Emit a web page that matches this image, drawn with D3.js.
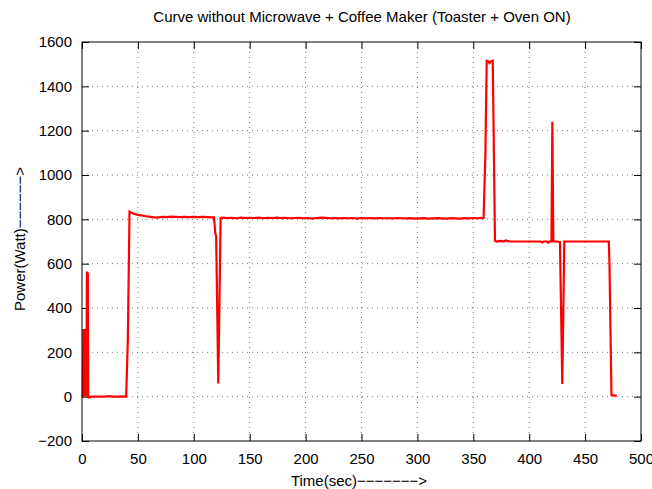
<!DOCTYPE html>
<html>
<head>
<meta charset="utf-8">
<script src="https://cdn.jsdelivr.net/npm/d3@7"></script>
<style>
  html, body { margin: 0; padding: 0; background: #fff; }
  svg { display: block; }
  text { font-family: "Liberation Sans", Arial, Helvetica, sans-serif; font-size: 15px; fill: #000; }
</style>
</head>
<body>
<svg id="chart" width="652" height="489"></svg>
<script>
const titleText = "Curve without Microwave + Coffee Maker (Toaster + Oven ON)";
const xLabelText = "Time(sec)\u2212\u2212\u2212\u2212\u2212\u2212\u2212>";
const yLabelText = "Power(Watt)\u2212\u2212\u2212\u2212\u2212\u2212>";
const xTicks = [0, 50, 100, 150, 200, 250, 300, 350, 400, 450, 500];
const yTicks = [-200, 0, 200, 400, 600, 800, 1000, 1200, 1400, 1600];

const timeSec = [
  0, 0.8, 1.2, 1.6, 2.0, 2.4, 2.8, 3.2, 3.6, 4.0, 4.4, 4.8, 5.2, 5.6, 6.5, 8, 12, 16, 20, 24, 28, 32, 36, 39.5, 41, 42.5,
  45, 47, 50, 53, 56, 60, 63, 66, 70, 73, 76, 80, 84, 88, 92, 96, 100, 104, 108, 112, 116, 118, 119.3, 120, 121.9, 124,
  126, 130, 134, 138, 142, 146, 150, 154, 158, 162, 166, 170, 174, 178, 182, 186, 190, 194, 198, 202, 206, 210, 214, 218,
  222, 226, 230, 234, 238, 242, 246, 250, 254, 258, 262, 266, 270, 274, 278, 282, 286, 290, 294, 298, 302, 306, 310, 314,
  318, 322, 326, 330, 334, 338, 342, 346, 350, 354, 358, 359.2,
  360.8, 362, 363.5, 364.5, 365.5, 367.4, 369.4, 371, 373, 375, 377, 379, 381, 383, 386, 390, 395, 400, 405, 410, 412, 413,
  416, 417, 418, 419.9, 420.7, 421.6, 424, 427.5, 429.6, 431.4, 435, 440, 450, 460, 470, 471.2, 471.8, 473.6, 476, 478.3
];
const powerWatt = [
  0, 0, 305, 0, 300, 0, 305, 0, 300, 0, 565, 0, 560, -3, -4, 0, 0, 0, 0, 2, 0, 0, 1, 0, 255, 835,
  828, 824, 820, 818, 815, 812, 810, 808, 810, 811, 810, 812, 811, 810, 811, 810, 811, 810, 811, 810, 809, 810, 735, 725, 60, 806,
  808, 806, 807, 805, 808, 806, 807, 806, 808, 805, 807, 806, 808, 806, 807, 805, 806, 807, 805, 806, 803, 806, 808, 807,
  805, 806, 804, 806, 805, 806, 803, 806, 805, 806, 804, 806, 805, 805, 804, 806, 805, 804, 805, 803, 804, 805, 803, 804,
  805, 804, 803, 805, 804, 803, 805, 804, 806, 805, 806, 806,
  1090, 1515, 1512, 1505, 1512, 1515, 703, 700, 702, 703, 700, 705, 702, 700, 700, 700, 700, 700, 700, 700, 696, 700,
  700, 695, 700, 700, 1240, 700, 700, 698, 57, 700, 700, 700, 700, 700, 700, 700, 600, 7, 5, 5
];

const W = 652, H = 489;
const plot = { left: 82, right: 641, top: 42, bottom: 441 };
const svg = d3.select("#chart");

const x = d3.scaleLinear().domain([0, 500]).range([plot.left, plot.right]);
const y = d3.scaleLinear().domain([-200, 1600]).range([plot.bottom, plot.top]);

// gridlines
const grid = svg.append("g");
grid.selectAll("line.vg").data(xTicks.slice(1, -1)).enter().append("line")
  .attr("x1", d => x(d)).attr("x2", d => x(d))
  .attr("y1", plot.top).attr("y2", plot.bottom)
  .attr("stroke", "#777").attr("stroke-width", 1).attr("stroke-dasharray", "1,4");
grid.selectAll("line.hg").data(yTicks.slice(1, -1)).enter().append("line")
  .attr("y1", d => y(d)).attr("y2", d => y(d))
  .attr("x1", plot.left).attr("x2", plot.right)
  .attr("stroke", "#777").attr("stroke-width", 1).attr("stroke-dasharray", "1,4");

// axes with inward ticks
const tl = 7;
const xAxisB = d3.axisBottom(x).tickValues(xTicks).tickSize(-tl).tickPadding(12).tickFormat(d3.format("d"));
const xAxisT = d3.axisTop(x).tickValues(xTicks).tickSize(-tl).tickFormat("");
const yAxisL = d3.axisLeft(y).tickValues(yTicks).tickSize(-tl).tickPadding(10).tickFormat(d3.format("d"));
const yAxisR = d3.axisRight(y).tickValues(yTicks).tickSize(-tl).tickFormat("");

function styleAxis(g) {
  g.select(".domain").remove();
  g.selectAll(".tick line").attr("stroke", "#000").attr("stroke-width", 1);
  g.selectAll(".tick text").style("font-size", "15px").attr("fill", "#000")
    .style("font-family", '"Liberation Sans", Arial, sans-serif');
}
svg.append("g").attr("transform", `translate(0,${plot.bottom})`).call(xAxisB).call(styleAxis);
svg.append("g").attr("transform", `translate(0,${plot.top})`).call(xAxisT).call(styleAxis);
svg.append("g").attr("transform", `translate(${plot.left},0)`).call(yAxisL).call(styleAxis);
svg.append("g").attr("transform", `translate(${plot.right},0)`).call(yAxisR).call(styleAxis);

// data line
const data = timeSec.map((t, i) => ({ t, p: powerWatt[i] }));
const line = d3.line().x(d => x(d.t)).y(d => y(d.p));
svg.append("path").datum(data)
  .attr("d", line)
  .attr("fill", "none")
  .attr("stroke", "#ff0000")
  .attr("stroke-width", 2.2)
  .attr("stroke-linejoin", "miter");

// border
svg.append("rect")
  .attr("x", plot.left).attr("y", plot.top)
  .attr("width", plot.right - plot.left).attr("height", plot.bottom - plot.top)
  .attr("fill", "none").attr("stroke", "#000").attr("stroke-width", 1);

// title and labels
svg.append("text").attr("x", 362).attr("y", 22).attr("text-anchor", "middle").text(titleText);
svg.append("text").attr("x", 359).attr("y", 486).attr("text-anchor", "middle").text(xLabelText);
svg.append("text").attr("transform", `translate(25,${239}) rotate(-90)`).attr("text-anchor", "middle").text(yLabelText);
</script>
</body>
</html>
